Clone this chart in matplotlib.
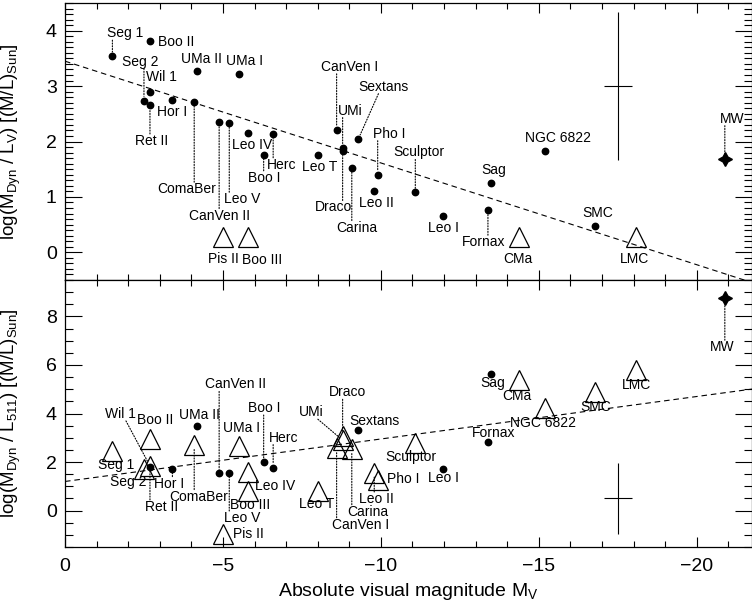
import matplotlib
matplotlib.use('Agg')
import matplotlib.pyplot as plt
from matplotlib.ticker import MultipleLocator

plt.rcParams['font.family'] = ['Liberation Sans', 'DejaVu Sans']
plt.rcParams['mathtext.fontset'] = 'custom'
plt.rcParams['mathtext.rm'] = 'Liberation Sans'
plt.rcParams['mathtext.it'] = 'Liberation Sans:italic'

# ---------------- data ----------------
names = ['Seg 1', 'Boo II', 'UMa II', 'UMa I', 'Wil 1', 'Seg 2', 'Ret II', 'Hor I',
         'ComaBer', 'CanVen II', 'Leo V', 'Leo IV', 'Herc', 'Boo I', 'Pis II', 'Boo III',
         'Leo T', 'CanVen I', 'UMi', 'Draco', 'Sextans', 'Carina', 'Pho I', 'Leo II',
         'Sculptor', 'Leo I', 'Sag', 'Fornax', 'CMa', 'NGC 6822', 'SMC', 'LMC', 'MW']
mv = [-1.50, -2.69, -4.19, -5.50, -2.69, -2.50, -2.69, -3.40,
      -4.09, -4.88, -5.20, -5.80, -6.59, -6.29, -5.01, -5.80,
      -8.00, -8.60, -8.79, -8.79, -9.29, -9.08, -9.90, -9.79,
      -11.09, -11.98, -13.48, -13.39, -14.38, -15.19, -16.78, -18.09, -20.89]
ml_v = [3.54, 3.81, 3.28, 3.21, 2.89, 2.74, 2.66, 2.75,
        2.71, 2.36, 2.33, 2.16, 2.14, 1.76, 0.28, 0.28,
        1.76, 2.21, 1.89, 1.82, 2.05, 1.53, 1.40, 1.11,
        1.08, 0.65, 1.25, 0.76, 0.28, 1.83, 0.48, 0.28, 1.69]
ml_v_kind = ['dot'] * 14 + ['tri', 'tri'] + ['dot'] * 12 + ['tri', 'dot', 'dot', 'tri', 'star']
ml_511 = [2.45, 2.93, 3.50, 2.65, 1.84, 1.70, 1.80, 1.73,
          2.72, 1.53, 1.55, 1.57, 1.77, 2.00, -0.95, 0.82,
          0.82, 2.59, 2.90, 3.06, 3.31, 2.55, 1.25, 1.55,
          2.79, 1.70, 5.62, 2.83, 5.37, 4.22, 4.90, 5.78, 8.75]
ml_511_kind = ['tri', 'tri', 'dot', 'tri', 'tri', 'tri', 'dot', 'dot',
               'tri', 'dot', 'dot', 'tri', 'dot', 'dot', 'tri', 'tri',
               'tri', 'tri', 'tri', 'tri', 'dot', 'tri', 'tri', 'tri',
               'tri', 'dot', 'dot', 'dot', 'tri', 'tri', 'tri', 'tri', 'star']

fit_v = (3.45, 0.1837)      # intercept, slope (per mag)
fit_511 = (1.20, -0.175)
err_v = (-17.5, 3.0, 0.45, 1.33)     # x, y, xerr, yerr
err_511 = (-17.5, 0.5, 0.45, 1.48)

# ---------------- label layout: (dx px, dy px (down positive), leader) ----------------
lab_top = {
    'Seg 1': (13, -23, 'v'), 'Boo II': (26, 1, None), 'Seg 2': (-4, -39, 'v'),
    'Wil 1': (11, -15, None), 'UMa II': (4, -12, None), 'UMa I': (6, -13, None),
    'Hor I': (0, 12, None), 'Ret II': (2, 36, 'v'), 'ComaBer': (-8, 87, 'v'),
    'CanVen II': (0, 94, 'v'), 'Leo V': (13, 76, 'v'), 'Leo IV': (4, 12, None),
    'Herc': (8, 31, 'v'), 'Boo I': (1, 23, 'v'), 'Pis II': (0, 22, None),
    'Boo III': (14, 23, None), 'Leo T': (2, 12, None), 'CanVen I': (13, -63, 'v'),
    'UMi': (8, -37, 'v'), 'Sextans': (25, -52, 's'), 'Pho I': (12, -41, 'v'),
    'Sculptor': (4, -40, 'v'), 'Draco': (-9, 56, 'v'), 'Leo II': (2, 12, None),
    'Carina': (5, 60, 'v'), 'Leo I': (0, 12, None), 'Sag': (3, -13, None),
    'Fornax': (-4, 32, 'v'), 'CMa': (-1, 22, None), 'NGC 6822': (13, -13, None),
    'SMC': (3, -13, None), 'LMC': (-2, 22, None), 'MW': (7, -40, 'v'),
}
lab_bot = {
    'Wil 1': (-30, -52, 's'), 'Boo II': (5, -19, None), 'UMa II': (2, -11, None),
    'UMa I': (3, -18, None), 'Boo I': (1, -54, 'v'), 'Herc': (10, -30, 'v'),
    'CanVen II': (16, -89, 'v'), 'Seg 1': (4, 14, None), 'Seg 2': (-16, 13, None),
    'Hor I': (-3, 15, 'v'), 'Ret II': (12, 40, 'v'), 'ComaBer': (4, 52, 'v'),
    'Leo IV': (27, 14, None), 'Boo III': (2, 14, None), 'Leo V': (13, 45, 'v'),
    'Pis II': (25, 0, None), 'Draco': (5, -44, 'v'), 'UMi': (-31, -28, 's'),
    'Sextans': (16, -9, None), 'Leo T': (-1, 13, None), 'Pho I': (26, -1, None),
    'Leo II': (2, 26, 'v'), 'Carina': (16, 63, 'v'), 'CanVen I': (24, 77, 'v'),
    'Sculptor': (-4, 14, None), 'Leo I': (0, 9, None), 'Sag': (2, 9, None),
    'Fornax': (6, -9, None), 'CMa': (-2, 16, None), 'NGC 6822': (-2, 15, None),
    'SMC': (1, 15, None), 'LMC': (0, 15, None), 'MW': (-3, 49, 'v'),
}

fig = plt.figure(figsize=(7.52, 6.12), dpi=100)
ax1 = fig.add_axes([65 / 752, (612 - 280) / 612, 687 / 752, 277 / 612])
ax2 = fig.add_axes([65 / 752, (612 - 547) / 612, 687 / 752, 267 / 612], sharex=ax1)

XL = (0, -21.75)
FS_LAB = 10


def draw_panel(ax, vals, kinds, labels, fit, err):
    for x, y, k in zip(mv, vals, kinds):
        if k == 'dot':
            ax.plot(x, y, 'o', ms=4.6, color='black', zorder=3)
        elif k == 'tri':
            ax.plot(x, y, '^', ms=14.4, mfc='none', mec='black', mew=0.9, zorder=3)
        else:
            ax.plot(x, y, marker=(4, 1, 0), ms=10, color='black', zorder=3)
    a, b = fit
    xs = list(XL)
    ln, = ax.plot(xs, [a + b * x for x in xs], color='black', lw=0.8, zorder=2)
    ln.set_dashes([5, 3.5])
    ex, ey, exe, eye = err
    ax.errorbar([ex], [ey], xerr=[exe], yerr=[eye], fmt='none', ecolor='black',
                elinewidth=0.8, capsize=0)
    for n, x, y in zip(names, mv, vals):
        dx, dy, lead = labels[n]
        ax.annotate(n, xy=(x, y), xytext=(dx, -dy), textcoords='offset pixels',
                    ha='center', va='center', fontsize=FS_LAB, zorder=4)
        if lead == 'v':
            sgn = 1 if dy > 0 else -1
            end = dy - sgn * 7
            ax.annotate('', xy=(x, y), xytext=(0, -end), textcoords='offset pixels',
                        arrowprops=dict(arrowstyle='-', linestyle=(0, (1, 1.5)), lw=0.8,
                                        color='black', shrinkA=0, shrinkB=3))
        elif lead == 's':
            sgn = 1 if dy > 0 else -1
            ax.annotate('', xy=(x, y), xytext=(dx * 0.8, -(dy - sgn * 7)),
                        textcoords='offset pixels',
                        arrowprops=dict(arrowstyle='-', linestyle=(0, (1, 1.5)), lw=0.8,
                                        color='black', shrinkA=0, shrinkB=3))


draw_panel(ax1, ml_v, ml_v_kind, lab_top, fit_v, err_v)
draw_panel(ax2, ml_511, ml_511_kind, lab_bot, fit_511, err_511)

ax1.set_xlim(*XL)
ax1.set_ylim(-0.5, 4.5)
ax2.set_ylim(-1.5, 9.5)

for ax in (ax1, ax2):
    ax.xaxis.set_major_locator(MultipleLocator(5))
    ax.xaxis.set_minor_locator(MultipleLocator(1))
    ax.tick_params(which='both', direction='in', top=True, right=True, labelsize=14,
                   width=0.8)
    ax.tick_params(axis='x', which='major', length=7, pad=8)
    ax.tick_params(axis='x', which='minor', length=4)
    ax.tick_params(axis='y', which='major', length=12, pad=6)
    ax.tick_params(axis='y', which='minor', length=6)
    for s in ax.spines.values():
        s.set_linewidth(0.9)

ax1.yaxis.set_major_locator(MultipleLocator(1))
ax1.yaxis.set_minor_locator(MultipleLocator(0.1))
ax2.yaxis.set_major_locator(MultipleLocator(2))
ax2.yaxis.set_minor_locator(MultipleLocator(0.5))
ax1.tick_params(axis='x', labelbottom=False)

ax2.set_xticks([0, -5, -10, -15, -20])
ax2.set_xticklabels(['0', '\u22125', '\u221210', '\u221215', '\u221220'])
ax2.set_yticks([0, 2, 4, 6, 8])
ax2.set_yticklabels(['0', '2', '4', '6', '8'])
ax1.set_yticks([0, 1, 2, 3, 4])
ax1.set_yticklabels(['0', '1', '2', '3', '4'])

ax2.set_xlabel(r'Absolute visual magnitude M$_{\rm V}$', fontsize=14, labelpad=4)
ax1.set_ylabel(r'log(M$_{\rm Dyn}$ / L$_{\rm V}$) [(M/L)$_{\rm Sun}$]', fontsize=13.5)
ax2.set_ylabel(r'log(M$_{\rm Dyn}$ / L$_{\rm 511}$) [(M/L)$_{\rm Sun}$]', fontsize=13.5)
ax1.yaxis.set_label_coords(-0.061, 0.5)
ax2.yaxis.set_label_coords(-0.061, 0.5)

fig.savefig('out.png', dpi=100)
